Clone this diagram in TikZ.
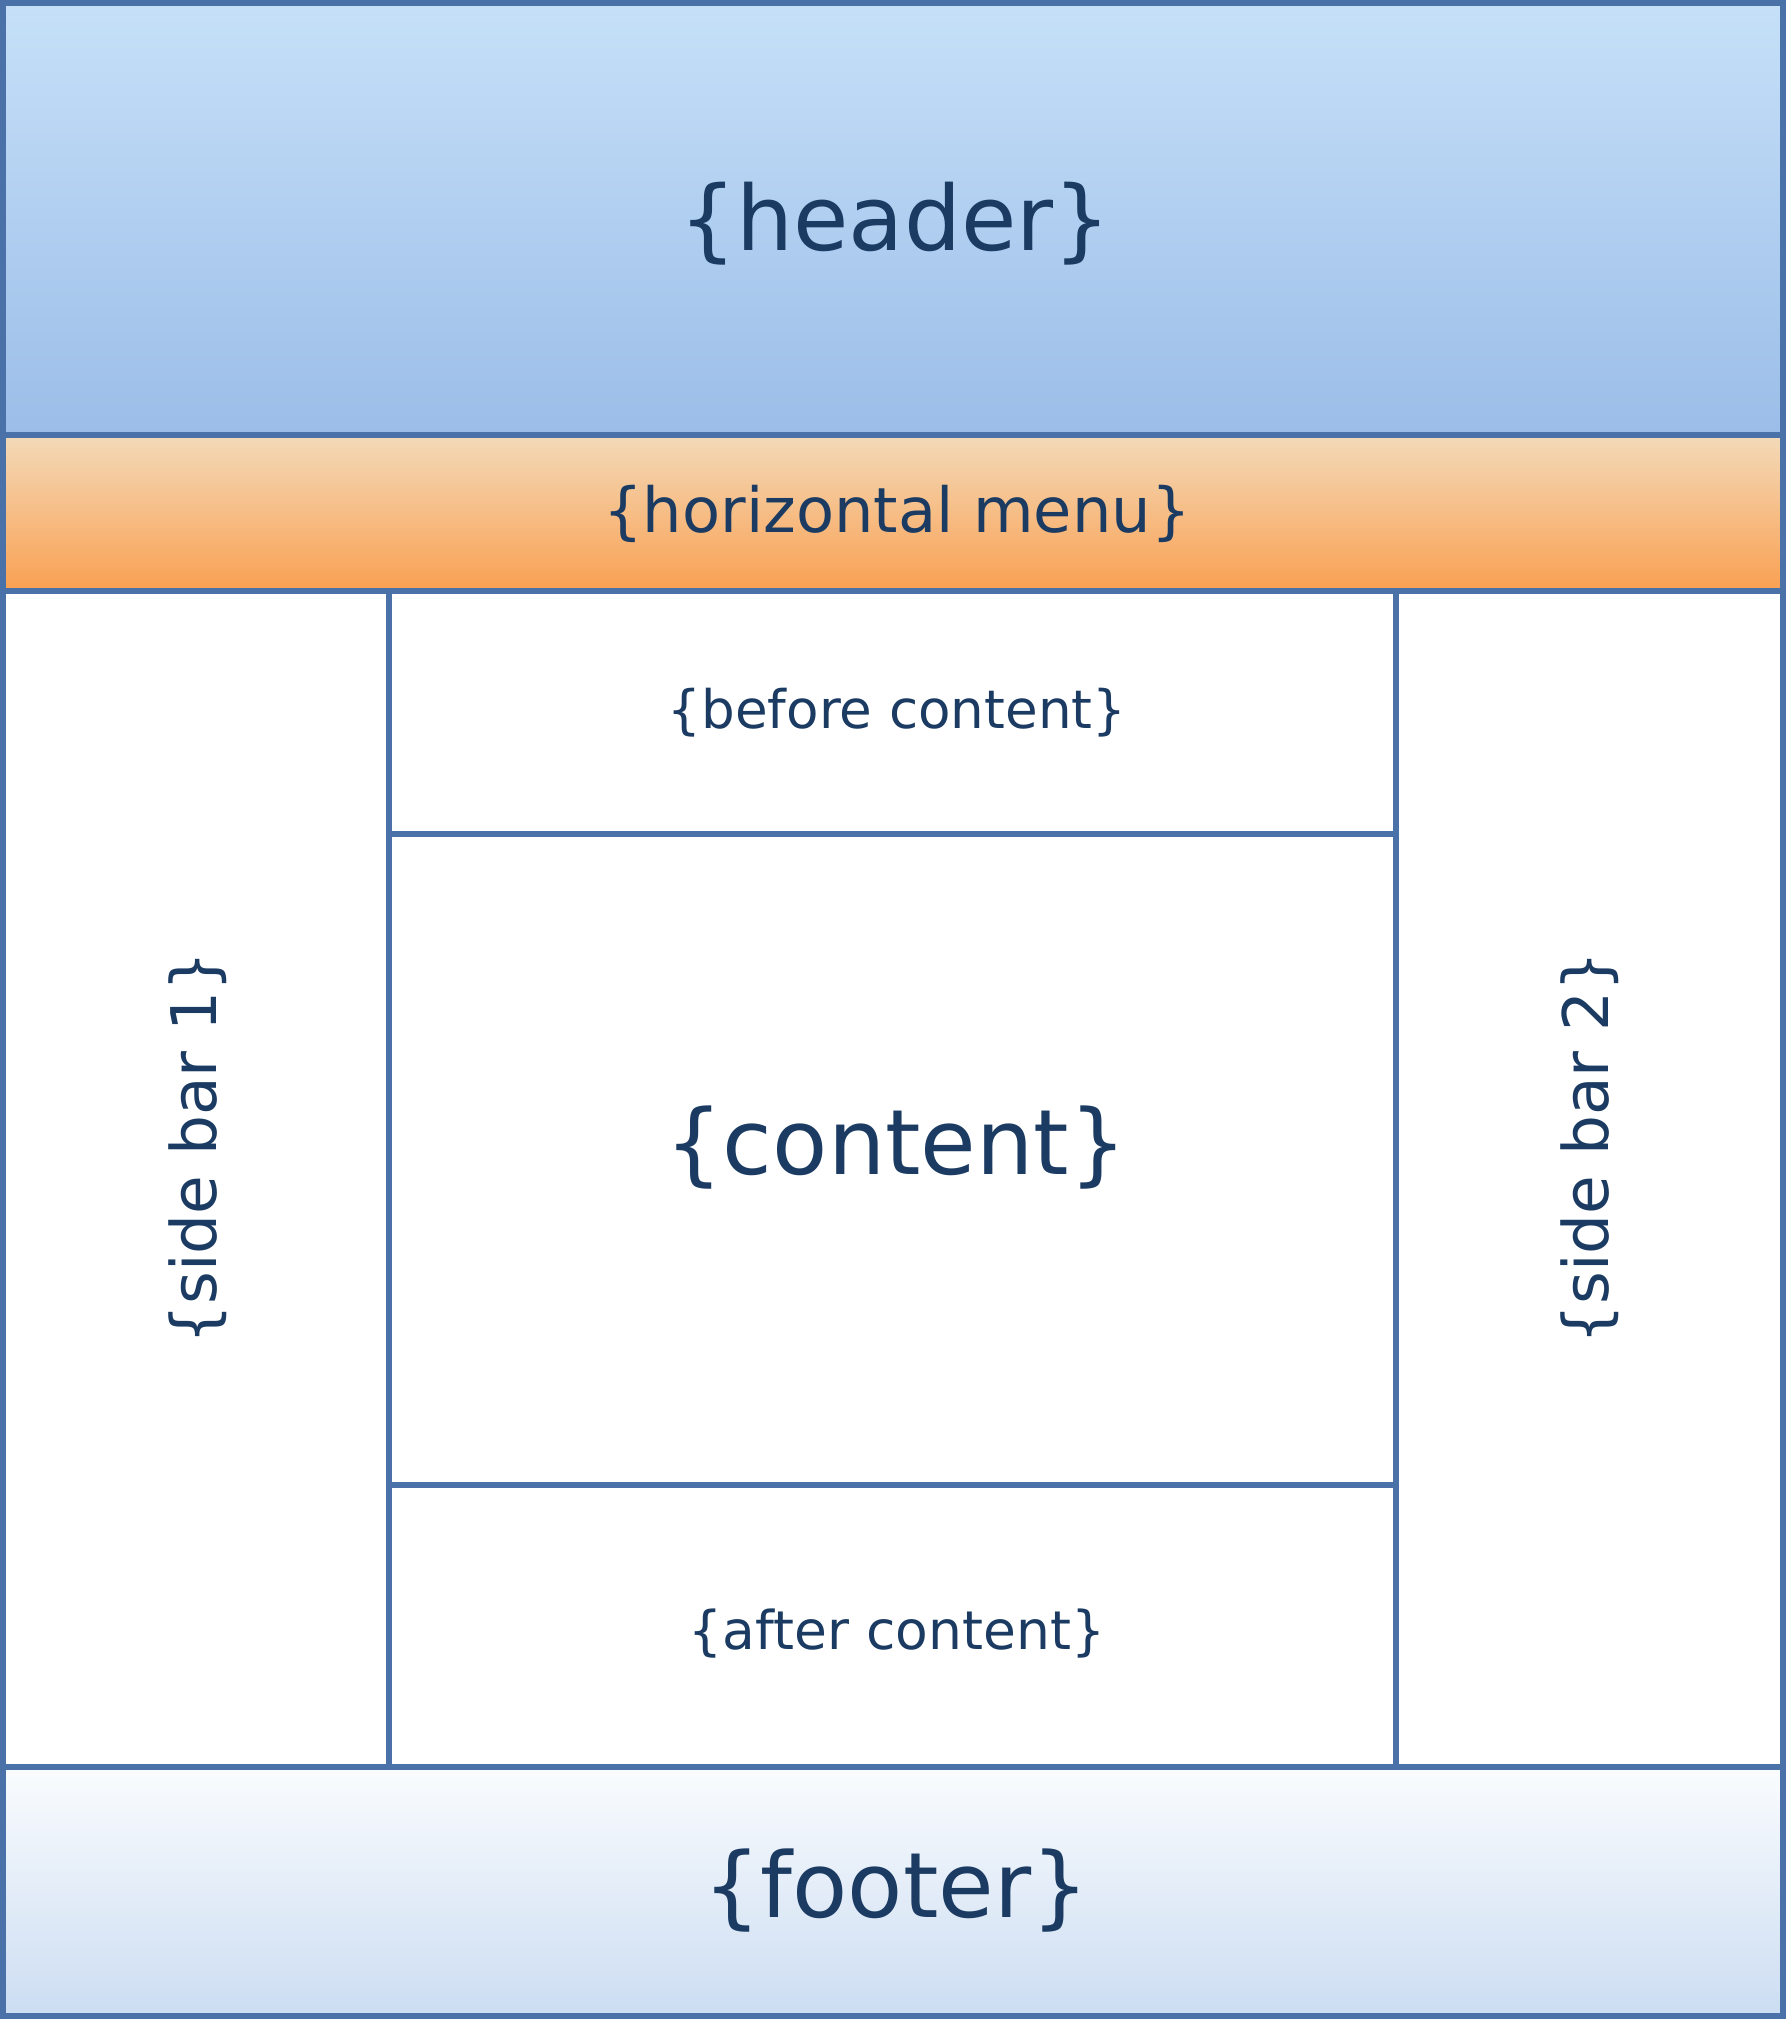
\documentclass[tikz,border=0pt]{standalone}
\usepackage{fontspec}
\setmainfont{DejaVu Sans}
\definecolor{bord}{HTML}{4A72A8}
\definecolor{txt}{HTML}{1B3B62}
\definecolor{ht}{HTML}{C6E0F8}
\definecolor{hb}{HTML}{9BBDE8}
\definecolor{mt}{HTML}{F3DAB9}
\definecolor{mb}{HTML}{FAA052}
\definecolor{ft}{HTML}{FAFCFE}
\definecolor{fb}{HTML}{CCDDF2}
\begin{document}
\begin{tikzpicture}[x=0.01cm,y=-0.01cm,
  box/.style={draw=bord,line width=1.6pt},
  lbl/.style={text=txt,inner sep=0pt}]
\useasboundingbox (0,0) rectangle (1786,2019);
\shade[top color=ht,bottom color=hb] (3,3) rectangle (1783,435);
\shade[top color=mt,bottom color=mb] (3,435) rectangle (1783,591);
\shade[top color=ft,bottom color=fb] (3,1767) rectangle (1783,2016);
\draw[box] (3,3) rectangle (1783,2016);
\draw[box] (3,435) -- (1783,435);
\draw[box] (3,591) -- (1783,591);
\draw[box] (3,1767) -- (1783,1767);
\draw[box] (389,591) -- (389,1767);
\draw[box] (1396,591) -- (1396,1767);
\draw[box] (389,834) -- (1396,834);
\draw[box] (389,1485) -- (1396,1485);
\node[lbl,font=\fontsize{25.6}{30}\selectfont] (h) at (895,224) {\{header\}};
\node[lbl,font=\fontsize{17.7}{21}\selectfont] (m) at (897,514) {\{horizontal menu\}};
\node[lbl,font=\fontsize{15.1}{18}\selectfont] (b) at (897,713) {\{before content\}};
\node[lbl,font=\fontsize{25.7}{30}\selectfont] (c) at (896,1148) {\{content\}};
\node[lbl,font=\fontsize{15.2}{18}\selectfont] (a) at (897,1634) {\{after content\}};
\node[lbl,font=\fontsize{25.7}{30}\selectfont] (f) at (896,1891) {\{footer\}};
\node[lbl,font=\fontsize{17.9}{21}\selectfont,rotate=90] (s1) at (198,1148) {\{side bar 1\}};
\node[lbl,font=\fontsize{17.9}{21}\selectfont,rotate=90] (s2) at (1590,1148) {\{side bar 2\}};
\end{tikzpicture}
\end{document}
